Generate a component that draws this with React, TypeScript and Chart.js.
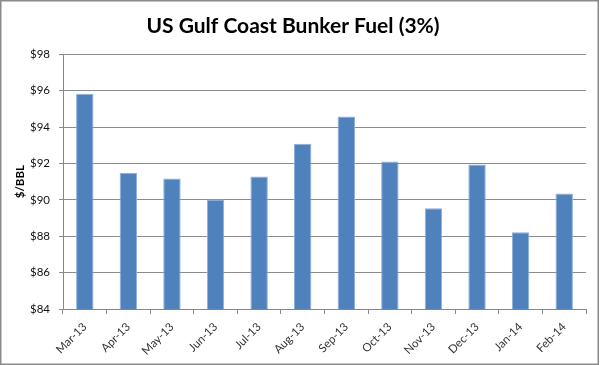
import React, { useEffect, useRef } from "react";
import { Chart, registerables } from "chart.js";

Chart.register(...registerables);

const categories = ["Mar-13", "Apr-13", "May-13", "Jun-13", "Jul-13", "Aug-13", "Sep-13", "Oct-13", "Nov-13", "Dec-13", "Jan-14", "Feb-14"];
const prices = [95.83, 91.48, 91.17, 90.02, 91.28, 93.08, 94.58, 92.1, 89.53, 91.94, 88.22, 90.34];
const titleText = "US Gulf Coast Bunker Fuel (3%)";
const yAxisTitle = "$/BBL";
const yMin = 84;
const yMax = 98;
const yStep = 2;

const borderPlugin = {
  id: "outerBorder",
  afterDraw(chart: any) {
    const ctx = chart.ctx;
    ctx.save();
    ctx.strokeStyle = "#8a8a8a";
    ctx.lineWidth = 1.5;
    ctx.strokeRect(0.75, 0.75, chart.width - 2.5, chart.height - 1.5);
    ctx.restore();
  },
};

export default function App() {
  const ref = useRef<HTMLCanvasElement>(null);
  useEffect(() => {
    if (!ref.current) return;
    const chart = new Chart(ref.current, {
      type: "bar",
      data: {
        labels: categories,
        datasets: [
          {
            data: prices,
            backgroundColor: "#4F81BD",
            borderColor: "#8FB0D9",
            borderWidth: 1,
            barPercentage: 0.4,
            categoryPercentage: 1,
          },
        ],
      },
      options: {
        responsive: false,
        animation: false,
        layout: { padding: { left: 0, right: 14, top: 0, bottom: 0 } },
        plugins: {
          legend: { display: false },
          tooltip: { enabled: false },
          title: {
            display: true,
            text: titleText,
            color: "#000",
            font: { family: "Lato", size: 21, weight: "bold", lineHeight: 1.2 },
            padding: { top: 14, bottom: 15 },
          },
        },
        scales: {
          x: {
            offset: true,
            grid: { drawOnChartArea: false, drawTicks: true, tickLength: 5, color: "#868686", offset: true },
            border: { display: true, color: "#868686" },
            ticks: {
              color: "#333",
              font: { family: "Lato", size: 11.5 },
              maxRotation: 45,
              minRotation: 45,
              padding: 6,
              autoSkip: false,
            },
            afterFit(scale: any) {
              scale.height = 56;
            },
          },
          y: {
            min: yMin,
            max: yMax,
            grid: { color: "#8c8c8c", tickLength: 4, drawTicks: true },
            border: { display: true, color: "#868686" },
            ticks: {
              stepSize: yStep,
              color: "#111",
              padding: 9,
              font: { family: "Lato", size: 11.5 },
              callback: (v: any) => "$" + v,
            },
            title: {
              display: true,
              text: yAxisTitle,
              color: "#000",
              font: { family: "Lato", size: 11.5, weight: "bold", lineHeight: 1.2 },
              padding: { top: 13, bottom: 0 },
            },
            afterFit(scale: any) {
              scale.width = 63;
            },
          },
        },
      },
      plugins: [borderPlugin],
    });
    return () => chart.destroy();
  }, []);
  return (
    <div style={{ position: "absolute", left: 0, top: 0, width: 600, height: 365, background: "#fff" }}>
      <canvas ref={ref} width={600} height={365} />
    </div>
  );
}
